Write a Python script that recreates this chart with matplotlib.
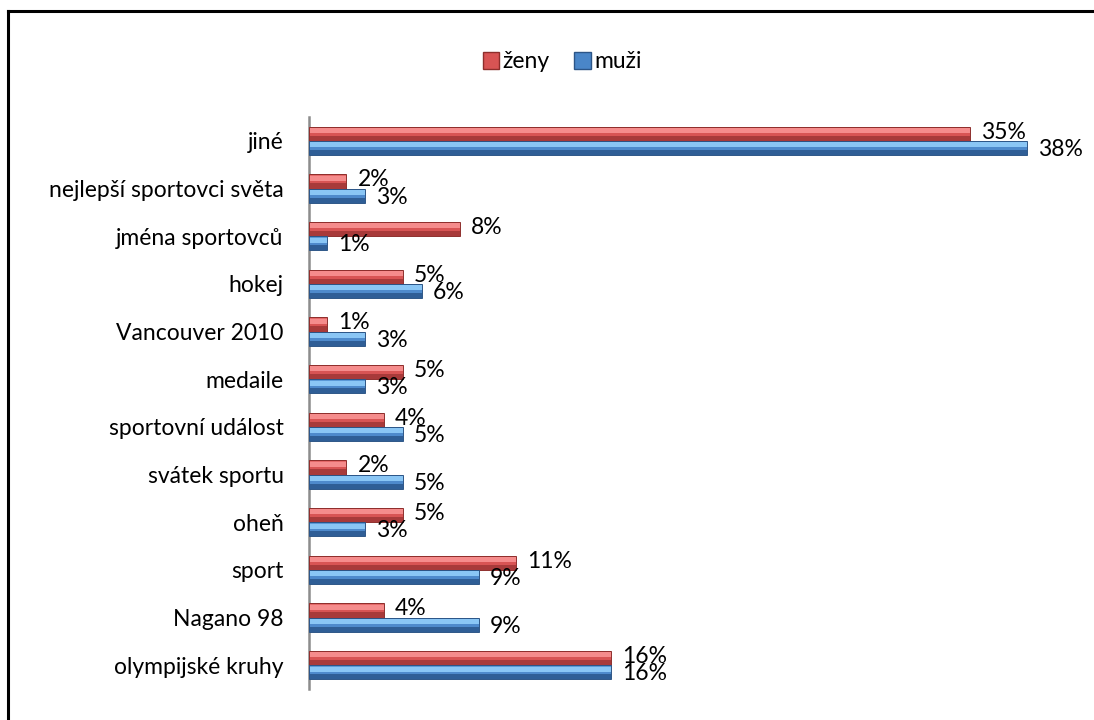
import matplotlib.pyplot as plt
from matplotlib.lines import Line2D
from matplotlib.patches import Patch
import numpy as np

plt.rcParams['font.family'] = ['Lato', 'DejaVu Sans']

# categories listed bottom to top
categories = ['olympijské kruhy', 'Nagano 98', 'sport', 'oheň', 'svátek sportu',
              'sportovní událost', 'medaile', 'Vancouver 2010', 'hokej',
              'jména sportovců', 'nejlepší sportovci světa', 'jiné']
zeny = [16, 4, 11, 5, 2, 4, 5, 1, 5, 8, 2, 35]
muzi = [16, 9, 9, 3, 5, 5, 3, 3, 6, 1, 3, 38]

W, H = 1094, 720
fig = plt.figure(figsize=(W / 100, H / 100), dpi=100)
ax = fig.add_axes([308.5 / W, 1 - 689 / H, 756 / W, 572 / H])

y = np.arange(len(categories))
h = 0.3
off = 0.15

# vertical colour profile of a bar, top to bottom: (fraction of height, colour)
red_profile = [(0.10, '#E46868'), (0.35, '#F58C8C'), (0.20, '#D85454'), (0.35, '#A83A3A')]
blue_profile = [(0.10, '#5A98D6'), (0.35, '#8AC6F5'), (0.20, '#4E8ACC'), (0.35, '#2F5E96')]


def bevel_bars(ypos, vals, profile, edge):
    top = ypos + h / 2
    for frac, col in profile:
        ax.barh(top - frac * h / 2, vals, height=frac * h, color=col, linewidth=0, zorder=3)
        top = top - frac * h
    ax.barh(ypos, vals, height=h, fill=False, edgecolor=edge, linewidth=0.7, zorder=4)


bevel_bars(y + off, zeny, red_profile, '#8E2E2C')
bevel_bars(y - off, muzi, blue_profile, '#2C5587')

for yi, v in zip(y, zeny):
    ax.annotate(f'{v}%', xy=(v, yi + off), xytext=(8, 1), textcoords='offset points',
                va='center', ha='left', fontsize=16.5, color='black', zorder=5)
for yi, v in zip(y, muzi):
    ax.annotate(f'{v}%', xy=(v, yi - off), xytext=(8, -1), textcoords='offset points',
                va='center', ha='left', fontsize=16.5, color='black', zorder=5)

ax.set_xlim(0, 40)
ax.set_ylim(-0.5, len(categories) - 0.5)
ax.set_yticks(y)
ax.set_yticklabels(categories, fontsize=16.5)
ax.tick_params(axis='y', length=0, pad=18)
ax.set_xticks([])
for s in ['top', 'right', 'bottom']:
    ax.spines[s].set_visible(False)
ax.spines['left'].set_color('#8C8C8C')
ax.spines['left'].set_linewidth(1.8)

handles = [Patch(facecolor='#D85454', edgecolor='#8E2E2C', label='ženy'),
           Patch(facecolor='#4A86C8', edgecolor='#2C5587', label='muži')]
fig.legend(handles=handles, loc='center', bbox_to_anchor=(562 / W, 1 - 62 / H), ncol=2,
           frameon=False, fontsize=16.5, handlelength=0.7, handleheight=0.7,
           handletextpad=0.15, columnspacing=1.1)

# outer frame, left and top edges
fig.add_artist(Line2D([7.5 / W, 7.5 / W], [0, 1 - 10.5 / H], color='black', linewidth=2.2))
fig.add_artist(Line2D([7.5 / W, 1], [1 - 10.5 / H, 1 - 10.5 / H], color='black', linewidth=2.2))

fig.savefig('out.png', dpi=100, facecolor='white')
